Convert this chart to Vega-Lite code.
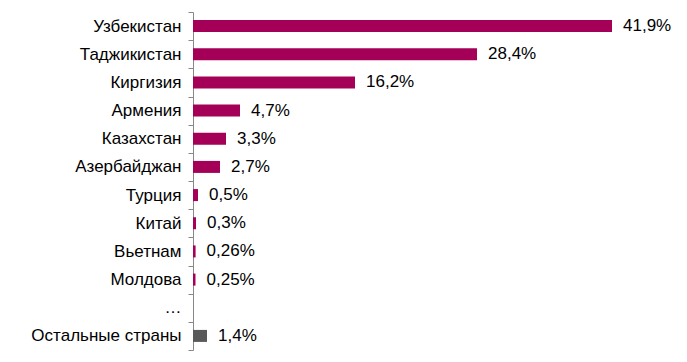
{
  "$schema": "https://vega.github.io/schema/vega-lite/v6.json",
  "autosize": {"type": "none"},
  "padding": {"left": 193, "top": 12, "right": 0, "bottom": 12},
  "width": 494,
  "height": 338,
  "background": "white",
  "config": {"view": {"stroke": null}, "font": "Liberation Sans"},
  "data": {"values": [
    {"country": "Узбекистан", "value": 41.9, "label": "41,9%", "group": "main"},
    {"country": "Таджикистан", "value": 28.4, "label": "28,4%", "group": "main"},
    {"country": "Киргизия", "value": 16.2, "label": "16,2%", "group": "main"},
    {"country": "Армения", "value": 4.7, "label": "4,7%", "group": "main"},
    {"country": "Казахстан", "value": 3.3, "label": "3,3%", "group": "main"},
    {"country": "Азербайджан", "value": 2.7, "label": "2,7%", "group": "main"},
    {"country": "Турция", "value": 0.5, "label": "0,5%", "group": "main"},
    {"country": "Китай", "value": 0.3, "label": "0,3%", "group": "main"},
    {"country": "Вьетнам", "value": 0.26, "label": "0,26%", "group": "main"},
    {"country": "Молдова", "value": 0.25, "label": "0,25%", "group": "main"},
    {"country": "Остальные страны", "value": 1.4, "label": "1,4%", "group": "other"}
  ]},
  "encoding": {
    "y": {
      "field": "country", "type": "nominal", "sort": null,
      "scale": {"paddingInner": 0, "paddingOuter": 0, "domain": ["Узбекистан", "Таджикистан", "Киргизия", "Армения", "Казахстан", "Азербайджан", "Турция", "Китай", "Вьетнам", "Молдова", "…", "Остальные страны"]},
      "axis": {
        "title": null, "tickBand": "extent", "domainColor": "#888888", "tickColor": "#888888",
        "tickSize": 5, "labelPadding": 7, "labelFontSize": 17, "labelColor": "#000000",
        "labelFont": "Liberation Sans", "grid": false
      }
    },
    "x": {
      "field": "value", "type": "quantitative",
      "scale": {"domain": [0, 49.4], "nice": false},
      "axis": null
    }
  },
  "layer": [
    {
      "mark": {"type": "bar", "size": 12},
      "encoding": {
        "color": {
          "field": "group", "type": "nominal",
          "scale": {"domain": ["main", "other"], "range": ["#A50058", "#595959"]},
          "legend": null
        }
      }
    },
    {
      "mark": {"type": "text", "align": "left", "baseline": "middle", "dx": 11, "fontSize": 17, "font": "Liberation Sans", "color": "#000000"},
      "encoding": {"text": {"field": "label"}}
    }
  ]
}
